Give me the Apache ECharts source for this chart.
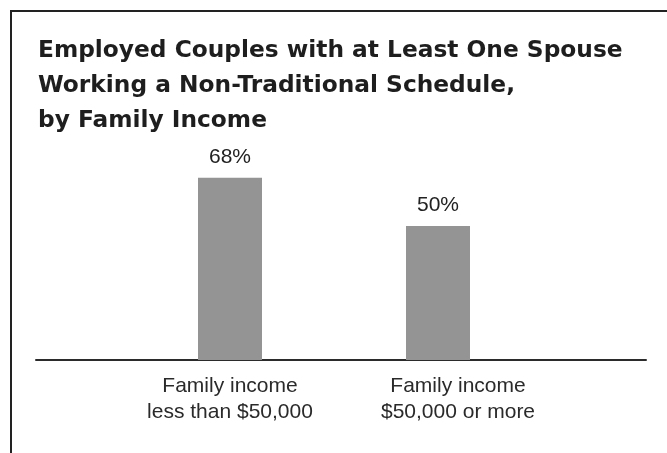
<!DOCTYPE html>
<html>
<head>
<meta charset="utf-8">
<script src="https://cdn.jsdelivr.net/npm/echarts@6/dist/echarts.min.js"></script>
<style>
html, body { margin: 0; padding: 0; background: #fff; }
#chart { width: 667px; height: 453px; }
</style>
</head>
<body>
<div id="chart"></div>
<script>
// data
var titleLines = ['Employed Couples with at Least One Spouse', 'Working a Non-Traditional Schedule,', 'by Family Income'];
var categories = ['Family income\nless than $50,000', 'Family income\n$50,000 or more'];
var shares = [68, 50];

var myChart = echarts.init(document.getElementById('chart'));

myChart.setOption({
    animation: false,
    title: {
        text: titleLines.join('\n'),
        left: 33,
        top: 28,
        textStyle: {
            fontFamily: 'DejaVu Sans',
            fontWeight: 'bold',
            fontSize: 23.3,
            lineHeight: 35,
            color: '#1e1e1e'
        }
    },
    grid: [
        { left: 126, right: 125, top: 92, bottom: 93 },
        // second grid only to draw the long baseline
        { left: 36, right: 21, top: 92, bottom: 93 }
    ],
    xAxis: [{
        type: 'category',
        gridIndex: 0,
        data: [
            { value: categories[0] },
            { value: categories[1], textStyle: { padding: [0, 0, 0, 40] } }
        ],
        axisLine: { show: false },
        axisTick: { show: false },
        axisLabel: {
            interval: 0,
            margin: 13,
            fontFamily: 'Liberation Sans',
            fontSize: 21,
            lineHeight: 26,
            color: '#2a2a2a'
        }
    }, {
        type: 'value',
        gridIndex: 1,
        min: 0,
        max: 1,
        axisLine: { show: true, lineStyle: { color: '#2b2b2b', width: 2 } },
        axisTick: { show: false },
        axisLabel: { show: false },
        splitLine: { show: false }
    }],
    yAxis: [{
        type: 'value',
        gridIndex: 0,
        min: 0,
        max: 100,
        show: false
    }, {
        type: 'value',
        gridIndex: 1,
        show: false
    }],
    graphic: [{
        type: 'rect',
        shape: { x: 11, y: 11, width: 700, height: 500 },
        style: { fill: 'none', stroke: '#222', lineWidth: 2 },
        silent: true
    }],
    series: [{
        type: 'bar',
        xAxisIndex: 0,
        yAxisIndex: 0,
        data: shares,
        barWidth: 64,
        itemStyle: { color: '#949494' },
        label: {
            show: true,
            position: 'top',
            distance: 10,
            formatter: '{c}%',
            fontFamily: 'Liberation Sans',
            fontSize: 21,
            color: '#222'
        }
    }]
});
</script>
</body>
</html>
